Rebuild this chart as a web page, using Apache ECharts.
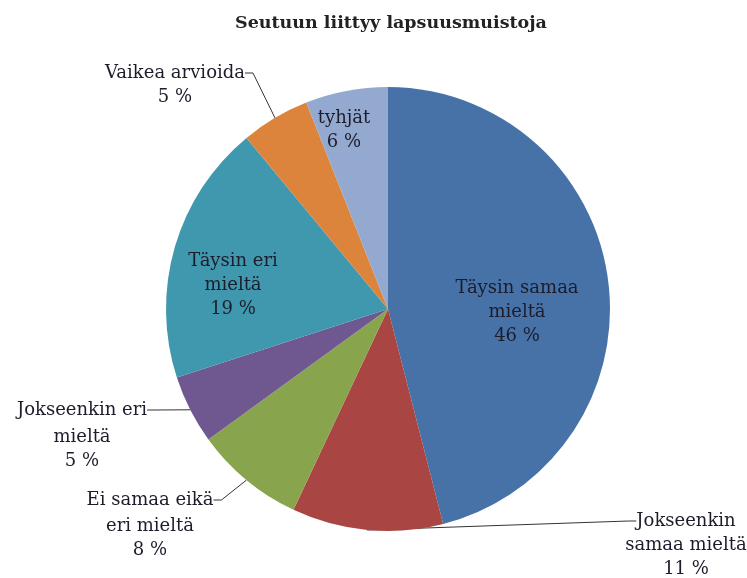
<!DOCTYPE html>
<html>
<head>
<meta charset="utf-8">
<script src="https://cdn.jsdelivr.net/npm/echarts@6/dist/echarts.min.js"></script>
<style>
  html, body { margin: 0; padding: 0; background: #fff; }
  #chart { width: 747px; height: 578px; }
</style>
</head>
<body>
<div id="chart"></div>
<script>
// vastaukset, järjestyksessä klo 12:sta myötäpäivään
var categories = [
  'Täysin samaa\nmieltä',
  'Jokseenkin\nsamaa mieltä',
  'Ei samaa eikä\neri mieltä',
  'Jokseenkin eri\nmieltä',
  'Täysin eri\nmieltä',
  'Vaikea arvioida',
  'tyhjät'
];
var shares = [46, 11, 8, 5, 19, 5, 6];
var colors = ['#4672a8', '#a94542', '#88a54e', '#6f5790', '#4098ae', '#dc843c', '#93a9d0'];
var insideLabel = [true, false, false, false, true, false, true];

// label places: [x, y of first line / whole block, y of rest]
var labelPos = [
  [517, 312, 0], [686, 521, 557], [150, 500, 538], [82, 410, 449],
  [233, 285, 0], [175, 73, 97], [344, 130, 0]
];

var myChart = echarts.init(document.getElementById('chart'));

var labelFont = {
  fontFamily: 'DejaVu Serif',
  fontSize: 18,
  lineHeight: 24,
  color: '#1c1c2a',
  align: 'center'
};

function firstLine(name) { return name.split('\n')[0]; }
function restLines(name, v) {
  var parts = name.split('\n').slice(1);
  parts.push(v + ' %');
  return parts.join('\n');
}

// main pie: inside labels whole, outside labels only the first line (leader line ends there)
var mainData = categories.map(function (name, i) {
  return {
    name: name,
    value: shares[i],
    itemStyle: { color: colors[i] },
    label: {
      position: insideLabel[i] ? 'inside' : 'outside',
      formatter: insideLabel[i] ? name + '\n' + shares[i] + ' %' : firstLine(name)
    },
    labelLine: { show: !insideLabel[i] }
  };
});

// overlay pie (no fill) for the remaining label lines of outside labels
var restData = categories.map(function (name, i) {
  return {
    name: name,
    value: shares[i],
    label: { show: !insideLabel[i], formatter: restLines(name, shares[i]) },
    labelLine: { show: false }
  };
});

myChart.setOption({
  animation: false,
  title: {
    text: 'Seutuun liittyy lapsuusmuistoja',
    left: 230,
    top: 9,
    textStyle: {
      fontFamily: 'DejaVu Serif',
      fontSize: 17.5,
      fontWeight: 'bold',
      color: '#222'
    }
  },
  series: [{
    type: 'pie',
    center: [388, 309],
    radius: 222,
    startAngle: 90,
    clockwise: true,
    avoidLabelOverlap: false,
    data: mainData,
    label: labelFont,
    labelLine: {
      length: 20,
      length2: 8,
      lineStyle: { color: '#333', width: 1 }
    },
    labelLayout: function (params) {
      var p = labelPos[params.dataIndex];
      return { x: p[0], y: p[1], align: 'center', verticalAlign: 'middle' };
    }
  }, {
    type: 'pie',
    center: [388, 309],
    radius: 222,
    startAngle: 90,
    clockwise: true,
    silent: true,
    avoidLabelOverlap: false,
    itemStyle: { color: 'rgba(0,0,0,0)' },
    data: restData,
    label: Object.assign({ position: 'outside' }, labelFont),
    labelLayout: function (params) {
      var p = labelPos[params.dataIndex];
      return { x: p[0], y: p[2], align: 'center', verticalAlign: 'middle' };
    }
  }]
});
</script>
</body>
</html>
